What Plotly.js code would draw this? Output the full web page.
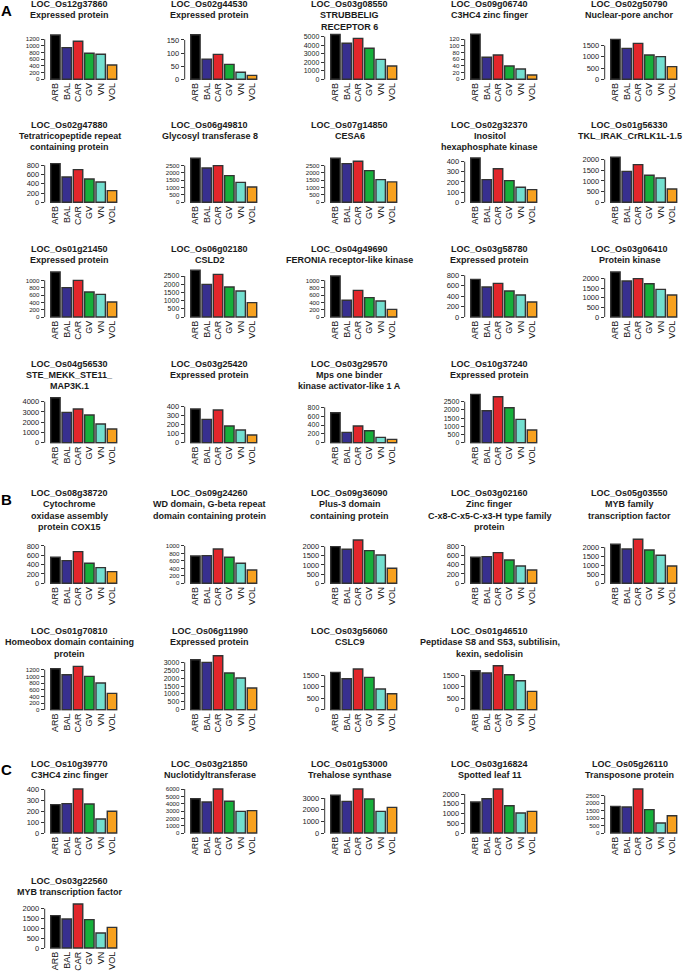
<!DOCTYPE html>
<html><head><meta charset="utf-8">
<script src="https://cdn.plot.ly/plotly-3.0.1.min.js"></script>
<style>html,body{margin:0;padding:0;background:#fff}#chart{width:685px;height:980px}</style>
</head><body><div id="chart"></div>
<script>
const categories = ['ARB','BAL','CAR','GV','VN','VOL'];
const barColors = ['#000000','#372f8f','#e1262b','#16b03a','#72dfcf','#f7a11f'];

const geneIds = [
 'LOC_Os12g37860','LOC_Os02g44530','LOC_Os03g08550','LOC_Os09g06740','LOC_Os02g50790',
 'LOC_Os02g47880','LOC_Os06g49810','LOC_Os07g14850','LOC_Os02g32370','LOC_Os01g56330',
 'LOC_Os01g21450','LOC_Os06g02180','LOC_Os04g49690','LOC_Os03g58780','LOC_Os03g06410',
 'LOC_Os04g56530','LOC_Os03g25420','LOC_Os03g29570','LOC_Os10g37240',
 'LOC_Os08g38720','LOC_Os09g24260','LOC_Os09g36090','LOC_Os03g02160','LOC_Os05g03550',
 'LOC_Os01g70810','LOC_Os06g11990','LOC_Os03g56060','LOC_Os01g46510',
 'LOC_Os10g39770','LOC_Os03g21850','LOC_Os01g53000','LOC_Os03g16824','LOC_Os05g26110',
 'LOC_Os03g22560'
];
const geneNames = [
 'Expressed protein','Expressed protein','STRUBBELIG\nRECEPTOR 6','C3HC4 zinc finger','Nuclear-pore anchor',
 'Tetratricopeptide repeat\ncontaining protein','Glycosyl transferase 8','CESA6','Inositol\nhexaphosphate kinase','TKL_IRAK_CrRLK1L-1.5',
 'Expressed protein','CSLD2','FERONIA receptor-like kinase','Expressed protein','Protein kinase',
 'STE_MEKK_STE11_\nMAP3K.1','Expressed protein','Mps one binder\nkinase activator-like 1 A','Expressed protein',
 'Cytochrome\noxidase assembly\nprotein COX15','WD domain, G-beta repeat\ndomain containing protein','Plus-3 domain\ncontaining protein','Zinc finger\nC-x8-C-x5-C-x3-H type family\nprotein','MYB family\ntranscription factor',
 'Homeobox domain containing\nprotein','Expressed protein','CSLC9','Peptidase S8 and S53, subtilisin,\nkexin, sedolisin',
 'C3HC4 zinc finger','Nuclotidyltransferase','Trehalose synthase','Spotted leaf 11','Transposone protein',
 'MYB transcription factor'
];

const valuesA = [
 [1330, 950, 1140, 780, 750, 430],
 [170, 77, 95, 57, 27, 15],
 [5250, 4220, 4800, 3630, 2340, 1560],
 [135, 66, 73, 40, 31, 13],
 [1780, 1380, 1600, 1085, 1010, 565],
 [836, 548, 706, 504, 440, 252],
 [3000, 2340, 2500, 1820, 1360, 1045],
 [3000, 2640, 2800, 2160, 1545, 1390],
 [436, 223, 331, 213, 148, 125],
 [2110, 1450, 1765, 1265, 1140, 625],
 [1227, 800, 1000, 682, 618, 409],
 [2850, 1992, 2600, 1829, 1585, 874],
 [1118, 455, 727, 527, 436, 209],
 [724, 577, 647, 500, 423, 288],
 [2328, 1862, 1983, 1724, 1431, 1138],
 [4390, 2960, 3285, 2700, 1820, 1333],
 [374, 259, 363, 185, 141, 85],
 [679, 234, 377, 272, 121, 75],
 [2947, 1951, 2805, 2134, 1423, 772]
];
const valuesB = [
 [557, 486, 679, 429, 336, 250],
 [732, 741, 920, 696, 536, 357],
 [2000, 1855, 2364, 1782, 1545, 818],
 [557, 571, 657, 500, 371, 286],
 [2167, 1907, 2444, 1852, 1556, 963],
 [1230, 1050, 1300, 1000, 800, 490],
 [3170, 3000, 3425, 2325, 2008, 1374],
 [1630, 1354, 1776, 1412, 902, 699],
 [1703, 1601, 1921, 1528, 1266, 800]
];
const valuesC = [
 [262, 271, 406, 268, 129, 200],
 [4680, 4230, 6000, 4320, 2950, 3045],
 [3230, 2714, 3771, 2914, 1857, 2200],
 [1590, 1760, 2256, 1400, 1025, 1111],
 [1786, 1741, 2946, 1562, 670, 1160],
 [1644, 1475, 2237, 1441, 763, 1051]
];
const values = valuesA.concat(valuesB, valuesC);

// y tick labels: step and highest labelled tick of each panel
const tickStep = [200,50,1000,20,500, 200,500,500,100,500, 200,500,200,200,500, 1000,100,200,500,
                  200,200,500,200,500, 200,500,500,500, 100,1000,1000,500,500, 500];
const tickTop  = [1200,150,5000,120,1500, 800,2500,2500,400,2000, 1000,2500,1000,800,2000, 4000,400,800,2500,
                  800,1000,2000,800,2000, 1200,3000,1500,1500, 400,6000,3000,2000,2500, 2000];

// layout: value drawn 45 px above the baseline in each panel
const axisScale = [1350,171.5,5273,135,2006, 973,3068,3068,443,2109, 1227,2744,1227,865,2328, 4390,500,1019,2744,
                   964,1205,2455,964,2500, 1350,2854,1965,1965, 415,6136,3857,2308,3013, 2288];
const rows = [
 {n:5, title:4.3, base:79.3},
 {n:5, title:125.3, base:202.3},
 {n:5, title:249.3, base:317},
 {n:4, title:364, base:442.7},
 {n:5, title:493.3, base:583.3},
 {n:4, title:631.3, base:709.7},
 {n:5, title:764, base:833},
 {n:1, title:880.7, base:948}
];
const sectionLabels = [{t:'A', y:10}, {t:'B', y:499}, {t:'C', y:769}];

const W = 685, H = 980;
const px = v => v / W, py = v => 1 - v / H;
const FONT = 'Liberation Sans, Arial, Helvetica, sans-serif';
const traces = [];
const layout = {
  width: W, height: H, margin: {l:0, r:0, t:0, b:0}, showlegend: false,
  paper_bgcolor: '#ffffff', plot_bgcolor: 'rgba(0,0,0,0)', bargap: 1/6,
  annotations: [], shapes: []
};
const P = 66 / 5.8333;
let k = 0;
rows.forEach(row => {
  for (let c = 0; c < row.n; c++) {
    const i = k++;
    const n = i + 1;
    const sfx = n === 1 ? '' : String(n);
    const xa = 'x' + sfx, ya = 'y' + sfx;
    const barLeft = 50.7 + 140 * c;
    traces.push({
      type: 'bar', x: categories, y: values[i], xaxis: xa, yaxis: ya,
      marker: {color: barColors, line: {color: '#333333', width: 1.4}},
      hoverinfo: 'none'
    });
    layout['xaxis' + sfx] = {
      domain: [px(barLeft - 6), px(barLeft + 68)], anchor: ya, type: 'category',
      range: [-0.4167 - 6 / P, 5.4167 + 2 / P], tickangle: -90, ticks: '',
      showline: false, showgrid: false, zeroline: false, fixedrange: true,
      tickfont: {family: FONT, size: 9, color: '#111'}
    };
    const L = axisScale[i];
    const tv = [];
    for (let t = 0; t <= tickTop[i] + 1e-9; t += tickStep[i]) tv.push(t);
    const spacing = tickStep[i] / L * 45;
    const tfs = spacing < 7.5 ? 6.2 : (spacing < 9 ? 7 : 7.5);
    layout['yaxis' + sfx] = {
      domain: [py(row.base + 1), py(row.base - 58)], anchor: xa,
      range: [-L / 45, 58 * L / 45], tickmode: 'array', tickvals: tv, ticktext: tv.map(String),
      ticks: 'outside', ticklen: 3, tickwidth: 1, tickcolor: '#333',
      showline: false, showgrid: false, zeroline: false, fixedrange: true,
      tickfont: {family: FONT, size: tfs, color: '#222'}
    };
    layout.shapes.push({
      type: 'line', xref: xa + ' domain', yref: ya, x0: 0, x1: 0, y0: 0, y1: tickTop[i],
      line: {color: '#333', width: 1}
    });
    const lines = [geneIds[i]].concat(geneNames[i].split('\n'));
    lines.forEach((s, j) => {
      layout.annotations.push({
        text: '<b>' + s + '</b>', xref: 'paper', yref: 'paper',
        x: px(barLeft + 19), y: py(row.title + j * 11.1),
        xanchor: 'center', yanchor: 'middle', showarrow: false,
        font: {family: FONT, size: 9, color: '#1a1a1a'}
      });
    });
  }
});
sectionLabels.forEach(s => {
  layout.annotations.push({
    text: '<b>' + s.t + '</b>', xref: 'paper', yref: 'paper', x: px(6), y: py(s.y),
    xanchor: 'center', yanchor: 'middle', showarrow: false,
    font: {family: FONT, size: 15, color: '#000'}
  });
});
Plotly.newPlot('chart', traces, layout, {staticPlot: true, displayModeBar: false});
</script>
</body></html>
